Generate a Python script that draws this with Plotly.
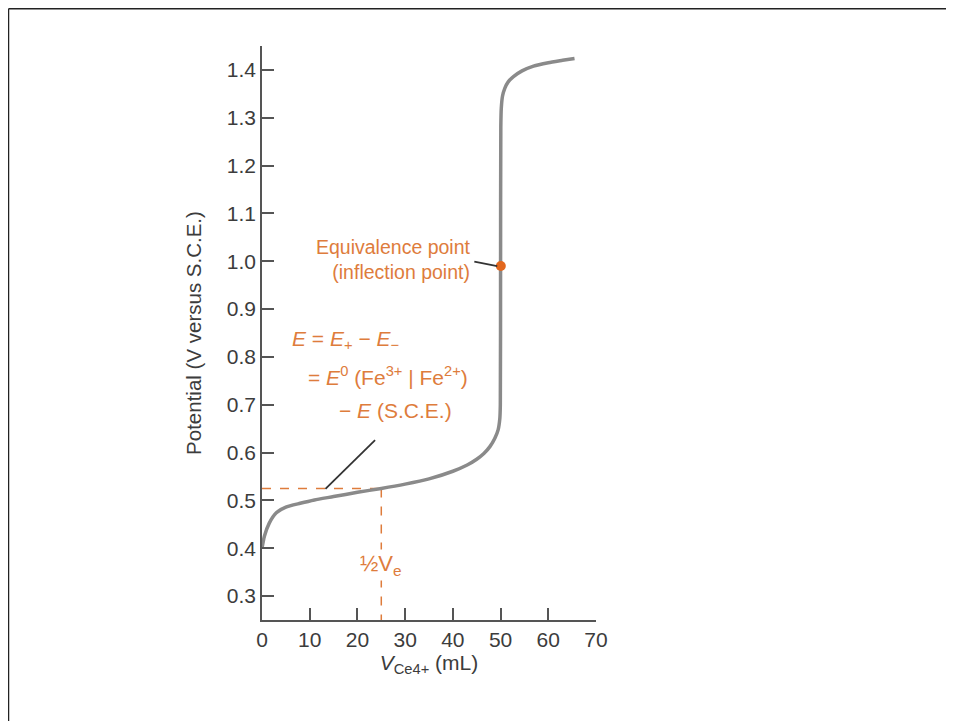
import plotly.graph_objects as go

# Titration curve
volume_ml = [0, 0.5, 1.5, 3, 5, 8, 11, 15, 20, 25, 30, 35, 40, 43, 45, 46.5,
             47.8, 48.8, 49.5, 49.85, 49.95, 50.0, 50.05, 50.15, 50.4, 50.9,
             51.6, 52.7, 54.5, 56.9, 60, 63, 65.5]
potential_v = [0.40, 0.425, 0.452, 0.474, 0.486, 0.494, 0.501, 0.508, 0.517,
               0.525, 0.534, 0.545, 0.561, 0.574, 0.586, 0.598, 0.613, 0.630,
               0.648, 0.672, 0.70, 0.99, 1.28, 1.32, 1.345, 1.362, 1.375,
               1.386, 1.398, 1.408, 1.415, 1.420, 1.424]

equiv_volume = [50.05]
equiv_potential = [0.99]

half_volume = 25
half_potential = 0.525
axis_floor = 0.25

x_ticks = [0, 10, 20, 30, 40, 50, 60, 70]
y_ticks = [0.3, 0.4, 0.5, 0.6, 0.7, 0.8, 0.9, 1.0, 1.1, 1.2, 1.3, 1.4]

ORANGE = "#de7c3c"
DOT = "#e2671e"
GRAY = "#8a8a8a"
AXIS = "#555555"
TXT = "#3c3c3c"
FONT = "Liberation Sans, Arial, sans-serif"

fig = go.Figure()

# dashed guides to half-equivalence point
fig.add_trace(go.Scatter(x=[0, half_volume], y=[half_potential, half_potential],
                         mode="lines", line=dict(color=ORANGE, width=1.5, dash="dash"),
                         hoverinfo="skip", showlegend=False))
fig.add_trace(go.Scatter(x=[half_volume, half_volume], y=[half_potential, axis_floor],
                         mode="lines", line=dict(color=ORANGE, width=1.5, dash="dash"),
                         hoverinfo="skip", showlegend=False))

fig.add_trace(go.Scatter(x=volume_ml, y=potential_v, mode="lines",
                         line=dict(color=GRAY, width=3.5, shape="spline", smoothing=0.6),
                         showlegend=False, cliponaxis=False))

fig.add_trace(go.Scatter(x=equiv_volume, y=equiv_potential, mode="markers",
                         marker=dict(color=DOT, size=10), showlegend=False))

# page has an 8px body margin, so the figure is sized/positioned to compensate
W, H = 946, 713
L, R, T, B = 254, 358, 38, 101

fig.update_layout(
    width=W, height=H,
    margin=dict(l=L, r=R, t=T, b=B),
    paper_bgcolor="white", plot_bgcolor="white",
    font=dict(family=FONT, size=20, color=TXT),
    xaxis=dict(range=[0, 70], tickvals=x_ticks, ticks="inside", ticklen=12,
               tickwidth=1.5, tickcolor=AXIS, showline=True, linecolor=AXIS,
               linewidth=1.5, showgrid=False, zeroline=False,
               tickfont=dict(size=21, color=TXT),
               title=dict(text="<i>V</i><sub>Ce4+</sub> (mL)", standoff=4,
                          font=dict(size=21, color=TXT))),
    yaxis=dict(range=[axis_floor, 1.45], tickvals=y_ticks, tickformat=".1f",
               ticks="inside", ticklen=12, tickwidth=1.5, tickcolor=AXIS,
               showline=True, linecolor=AXIS, linewidth=1.5, showgrid=False,
               zeroline=False, tickfont=dict(size=21, color=TXT),
               title=dict(text="Potential (V versus S.C.E.)", standoff=20,
                          font=dict(size=20.5, color=TXT))),
)

# frame around the figure (top and left edges visible)
pw, ph = W - L - R, H - T - B
def px(xp):
    return (xp - L) / pw
def py(yp):
    return (H - B - yp) / ph

fig.add_shape(type="line", xref="paper", yref="paper", x0=px(0.5), x1=px(960),
              y0=py(0.75), y1=py(0.75), line=dict(color="#222", width=1.5))
fig.add_shape(type="line", xref="paper", yref="paper", x0=px(0.5), x1=px(0.5),
              y0=py(0.75), y1=py(730), line=dict(color="#222", width=1.5))

# leader lines
fig.add_shape(type="line", x0=44.5, y0=0.999, x1=49.3, y1=0.990,
              line=dict(color="#333", width=1.8))
fig.add_shape(type="line", x0=23.7, y0=0.626, x1=13.3, y1=0.524,
              line=dict(color="#333", width=1.8))

fig.add_annotation(x=44.3, y=1.003, xanchor="right", yanchor="middle",
                   text="Equivalence point<br>(inflection point)", align="right",
                   showarrow=False, font=dict(size=19.5, color=ORANGE))
fig.add_annotation(x=5.9, y=0.836, xanchor="left", yanchor="middle",
                   text="<i>E</i> = <i>E</i><sub>+</sub> − <i>E</i><sub>−</sub>",
                   showarrow=False, font=dict(size=21, color=ORANGE))
fig.add_annotation(x=9.3, y=0.760, xanchor="left", yanchor="middle",
                   text="= <i>E</i><sup>0</sup> (Fe<sup>3+</sup> | Fe<sup>2+</sup>)",
                   showarrow=False, font=dict(size=21, color=ORANGE))
fig.add_annotation(x=15.8, y=0.689, xanchor="left", yanchor="middle",
                   text="− <i>E</i> (S.C.E.)",
                   showarrow=False, font=dict(size=21, color=ORANGE))
fig.add_annotation(x=half_volume, y=0.365, xanchor="center", yanchor="middle",
                   text="½V<sub>e</sub>", bgcolor="white", borderpad=1,
                   showarrow=False, font=dict(size=22, color=ORANGE))

fig.write_html("out.html")
